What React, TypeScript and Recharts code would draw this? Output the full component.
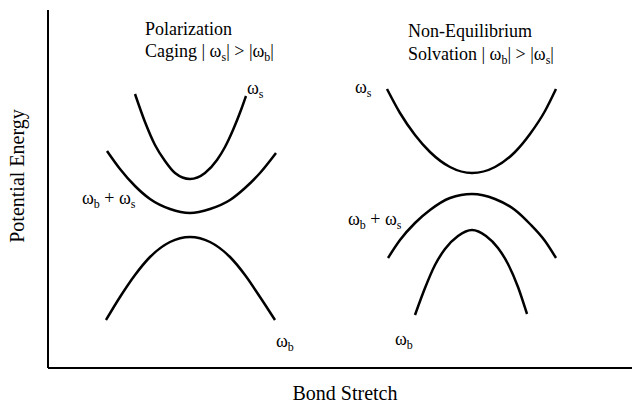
import React from "react";
import { Customized, Line, LineChart, XAxis, YAxis } from "recharts";

// Bond stretch (x) and potential energy (y) in arbitrary units
const leftSolventX = [87, 97, 107, 117, 127, 142, 157, 169, 177, 185, 193, 198];
const leftSolventY = [274, 246, 223, 207, 195, 189, 195, 208, 221, 238, 258, 272];

const leftSumX = [59, 72, 87, 102, 122, 142, 162, 182, 197, 212, 228];
const leftSumY = [217, 199, 182, 169, 159, 155, 159, 168, 180, 195, 215];

const leftBondX = [58, 72, 87, 102, 122, 142, 162, 182, 197, 212, 227];
const leftBondY = [48, 71, 93, 111, 126, 131, 126, 111, 93, 71, 48];

const rightSolventX = [339, 352, 367, 382, 402, 424, 447, 467, 482, 497, 508];
const rightSolventY = [279, 255, 233, 216, 201, 195, 201, 216, 234, 257, 279];

const rightSumX = [340, 352, 367, 382, 402, 424, 447, 467, 482, 497, 508];
const rightSumY = [110, 128, 145, 158, 170, 174, 169, 158, 144, 127, 110];

const rightBondX = [367, 377, 387, 397, 410, 424, 438, 450, 460, 470, 479];
const rightBondY = [53, 80, 103, 119, 132, 138, 132, 120, 104, 81, 54];

const zip = (xs: number[], ys: number[]) => xs.map((x, i) => ({ x, y: ys[i] }));

const curves = [
  zip(leftSolventX, leftSolventY),
  zip(leftSumX, leftSumY),
  zip(leftBondX, leftBondY),
  zip(rightSolventX, rightSolventY),
  zip(rightSumX, rightSumY),
  zip(rightBondX, rightBondY),
];

const FONT = '"Liberation Serif", "Times New Roman", serif';

// text pieces; "_x" means subscript x
function Rich({ x, y, parts }: { x: number; y: number; parts: string[] }) {
  let wasSub = false;
  return (
    <text x={x} y={y}>
      {parts.map((p, i) => {
        const sub = p.startsWith("_");
        const dy = sub ? (wasSub ? 0 : 4) : wasSub ? -4 : 0;
        wasSub = sub;
        return (
          <tspan key={i} dy={dy} fontSize={sub ? 12 : undefined}>
            {sub ? p.slice(1) : p}
          </tspan>
        );
      })}
    </text>
  );
}

function Annotations() {
  return (
    <g fontFamily={FONT} fill="#000" fontSize={18}>
      <text x={145} y={35}>Polarization</text>
      <Rich x={145} y={57} parts={["Caging | ω", "_s", "| > |ω", "_b", "|"]} />
      <text x={408} y={37}>Non-Equilibrium</text>
      <Rich x={408} y={60} parts={["Solvation | ω", "_b", "| > |ω", "_s", "|"]} />

      <Rich x={247} y={94} parts={["ω", "_s"]} />
      <Rich x={82} y={204} parts={["ω", "_b", " + ω", "_s"]} />
      <Rich x={276} y={347} parts={["ω", "_b"]} />

      <Rich x={355} y={93} parts={["ω", "_s"]} />
      <Rich x={348} y={225} parts={["ω", "_b", " + ω", "_s"]} />
      <Rich x={395} y={345} parts={["ω", "_b"]} />

      <text x={24} y={176} fontSize={20} textAnchor="middle" transform="rotate(-90 24 176)">
        Potential Energy
      </text>
      <text x={345} y={400} fontSize={20} textAnchor="middle">
        Bond Stretch
      </text>
    </g>
  );
}

export default function App() {
  return (
    <div style={{ position: "absolute", left: 0, top: 0, background: "#fff" }}>
      <LineChart
        width={632}
        height={404}
        margin={{ top: 10, right: 0, left: 0, bottom: 35 }}
      >
        <XAxis
          dataKey="x"
          type="number"
          domain={[0, 584]}
          allowDataOverflow
          height={1}
          tick={false}
          tickLine={false}
          axisLine={{ stroke: "#000", strokeWidth: 2 }}
        />
        <YAxis
          type="number"
          domain={[0, 358]}
          allowDataOverflow
          width={48}
          tick={false}
          tickLine={false}
          axisLine={{ stroke: "#000", strokeWidth: 2 }}
        />
        {curves.map((data, i) => (
          <Line
            key={i}
            data={data}
            dataKey="y"
            type="monotone"
            stroke="#000"
            strokeWidth={2.5}
            dot={false}
            activeDot={false}
            isAnimationActive={false}
          />
        ))}
        <Customized component={Annotations} />
      </LineChart>
    </div>
  );
}
